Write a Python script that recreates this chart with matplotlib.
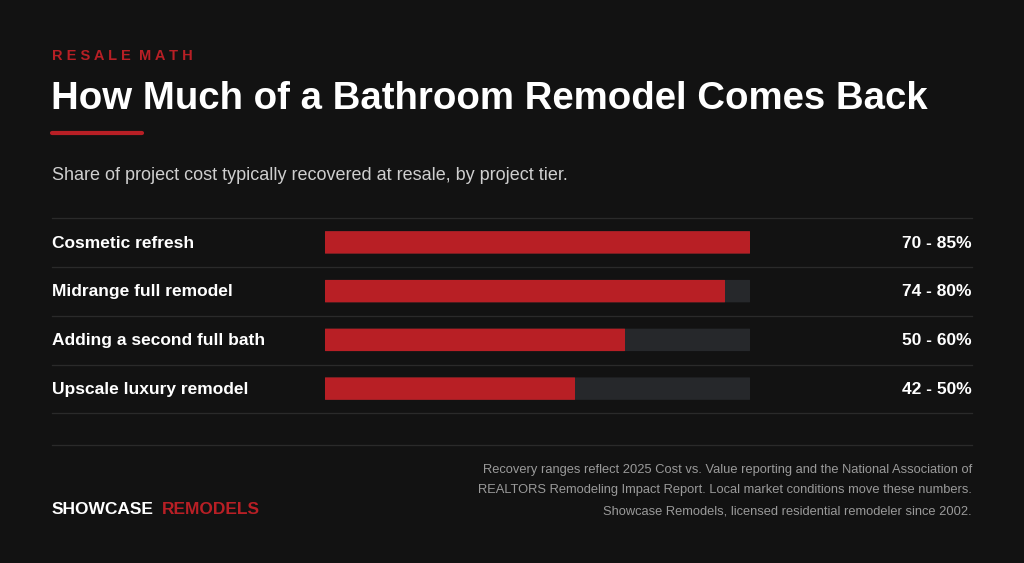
import matplotlib.pyplot as plt
from matplotlib.patches import FancyBboxPatch

plt.rcParams['font.family'] = ['Liberation Sans', 'DejaVu Sans']

# data
tiers = ["Cosmetic refresh", "Midrange full remodel", "Adding a second full bath", "Upscale luxury remodel"]
low = [70, 74, 50, 42]
high = [85, 80, 60, 50]
scale_max = 85

BG = "#121212"
RED = "#b81f25"
TRACK = "#26282b"
W, H = 1024, 563

fig = plt.figure(figsize=(W / 100, H / 100), dpi=100, facecolor=BG)

def fx(px):
    return px / W

def fy(py):
    return 1 - py / H

fig.text(fx(52), fy(56), "R E S A L E  M A T H", color=RED, fontsize=10.5, fontweight="bold", va="center")
fig.text(fx(51), fy(99), "How Much of a Bathroom Remodel Comes Back", color="white", fontsize=27.6, fontweight="bold", va="center")
fig.add_artist(plt.Line2D([fx(52), fx(142)], [fy(133), fy(133)], color=RED, lw=3, solid_capstyle="round"))
fig.text(fx(52), fy(175), "Share of project cost typically recovered at resale, by project tier.", color="#cfcfcf", fontsize=13, va="center")

# row separators
for py in [218, 267, 316, 365, 413, 445]:
    fig.add_artist(plt.Line2D([fx(52), fx(972)], [fy(py), fy(py)], color="#2a2a2a", lw=0.9))

# bar axes
ax = fig.add_axes([fx(325), fy(413), fx(750) - fx(325), (413 - 218) / H])
ax.set_facecolor("none")
ax.set_xlim(0, scale_max)
ax.set_ylim(len(tiers) - 0.5, -0.5)
ax.axis("off")
bh = 0.46
for i, (name, lo, hi) in enumerate(zip(tiers, low, high)):
    ax.add_patch(FancyBboxPatch((0, i - bh / 2), scale_max, bh, boxstyle="round,pad=0,rounding_size=0.08",
                                mutation_aspect=1 / 8, fc=TRACK, ec="none"))
    ax.add_patch(FancyBboxPatch((0, i - bh / 2), hi, bh, boxstyle="round,pad=0,rounding_size=0.08",
                                mutation_aspect=1 / 8, fc=RED, ec="none"))
    ypix = 243 + i * 48.7
    fig.text(fx(52), fy(ypix), name, color="white", fontsize=12.5, fontweight="bold", va="center")
    fig.text(fx(972), fy(ypix), f"{lo} - {hi}%", color="white", fontsize=12.5, fontweight="bold", va="center", ha="right")

fig.text(fx(52), fy(510), "SHOWCASE", color="white", fontsize=12.5, fontweight="bold", va="center")
fig.text(fx(162), fy(510), "REMODELS", color=RED, fontsize=12.5, fontweight="bold", va="center")

notes = ["Recovery ranges reflect 2025 Cost vs. Value reporting and the National Association of",
         "REALTORS Remodeling Impact Report. Local market conditions move these numbers.",
         "Showcase Remodels, licensed residential remodeler since 2002."]
for k, line in enumerate(notes):
    fig.text(fx(972), fy(470 + k * 20.5), line, color="#9a9a9a", fontsize=9.3, va="center", ha="right")

fig.savefig("out.png", dpi=100, facecolor=BG)
